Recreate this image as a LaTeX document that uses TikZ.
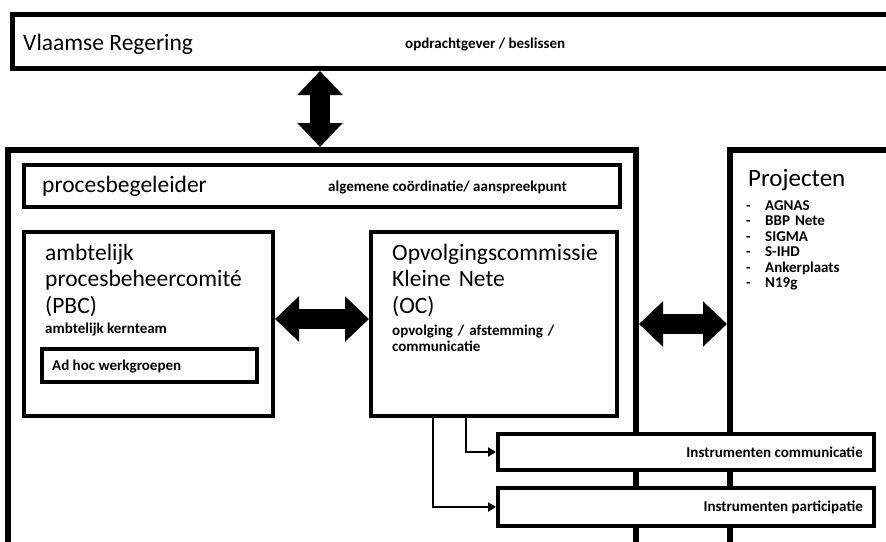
\documentclass[tikz,border=0pt]{standalone}
\usepackage{fontspec}
\setmainfont{Carlito}
\usetikzlibrary{arrows.meta,positioning,calc}

\newcommand{\streep}[1]{\makebox[19pt][l]{-}#1}

\begin{document}
\begin{tikzpicture}[
    x=1pt, y=-1pt,
    kader/.style={rectangle,draw,fill=white,line width=4pt,anchor=north west,inner sep=0pt},
    groot/.style={font=\fontsize{23.5}{26.5}\selectfont,inner sep=0pt,align=left},
    klein/.style={font=\bfseries\fontsize{15}{16}\selectfont,inner sep=0pt,align=left},
    dikpijl/.style={line width=20pt,{Triangle[length=24pt,width=44pt]}-{Triangle[length=24pt,width=44pt]}},
    lijn/.style={line width=2.5pt,-{Triangle[length=8pt,width=9pt]}}
]
\useasboundingbox (0,0) rectangle (886,541);
\clip (0,0) rectangle (886,541);

% Kaders
\node[kader,line width=5pt,minimum width=905pt,minimum height=54pt] (regering) at (10,12) {};
\node[kader,line width=6pt,minimum width=628pt,minimum height=467pt] (hoofd) at (5,147) {};
\node[kader,line width=6pt,minimum width=187pt,minimum height=467pt] (projbox) at (727,147) {};
\node[kader,minimum width=596pt,minimum height=42pt] (begeleider) at (22,163) {};
\node[kader,minimum width=249pt,minimum height=184pt] (pbc) at (22,230) {};
\node[kader,minimum width=246pt,minimum height=184pt] (oc) at (369,230) {};
\node[kader,line width=3.5pt,minimum width=215pt,minimum height=33pt] (adhoc) at (40,347) {};
\node[kader,minimum width=376pt,minimum height=36pt] (comm) at (496,432) {};
\node[kader,minimum width=376pt,minimum height=38pt] (part) at (496,486) {};

% Teksten
\node[groot,anchor=base west] (regtitel) at (23,50) {Vlaamse Regering};
\node[klein,anchor=base west] (regtaak) at (405,48) {opdrachtgever / beslissen};
\node[groot,anchor=base west] (begtitel) at (42,192) {procesbegeleider};
\node[klein,anchor=base west] (begtaak) at (328,191) {algemene coördinatie/ aanspreekpunt};
\node[groot,anchor=base west,text width=225pt] (pbctitel) at (45,260) {ambtelijk\\procesbeheercomité\\(PBC)};
\node[klein,anchor=base west] (pbctaak) at (45,333) {ambtelijk kernteam};
\node[klein,anchor=base west] (adhoctekst) at (52,370) {Ad hoc werkgroepen};
\node[groot,anchor=base west,text width=225pt] (octitel) at (392,260) {Opvolgingscommissie\\Kleine Nete\\(OC)};
\node[klein,anchor=base west,text width=220pt] (octaak) at (392,335) {opvolging / afstemming /\\communicatie};
\node[groot,font=\fontsize{25}{28}\selectfont,anchor=base west] (projtitel) at (748,186) {Projecten};
\node[klein,font=\bfseries\fontsize{15}{15.5}\selectfont,anchor=base west,text width=130pt] (projlijst) at (746,210)
    {\streep{AGNAS}\\\streep{BBP Nete}\\\streep{SIGMA}\\\streep{S-IHD}\\\streep{Ankerplaats}\\\streep{N19g}};
\node[klein,anchor=base east] (commtekst) at (863,457) {Instrumenten communicatie};
\node[klein,anchor=base east] (parttekst) at (863,511) {Instrumenten participatie};

% Pijlen
\coordinate (pijlx) at (320,0);
\draw[dikpijl] (regering.south -| pijlx) -- (hoofd.north -| pijlx);
\draw[dikpijl] ([yshift=5pt]pbc.east) -- ([yshift=5pt]oc.west);
\draw[dikpijl] (oc.east -| hoofd.east) -- (oc.east -| projbox.west);
\draw[lijn] ([xshift=97pt]oc.south west) |- (comm.west);
\draw[lijn] ([xshift=64pt]oc.south west) |- (part.west);

\end{tikzpicture}
\end{document}
